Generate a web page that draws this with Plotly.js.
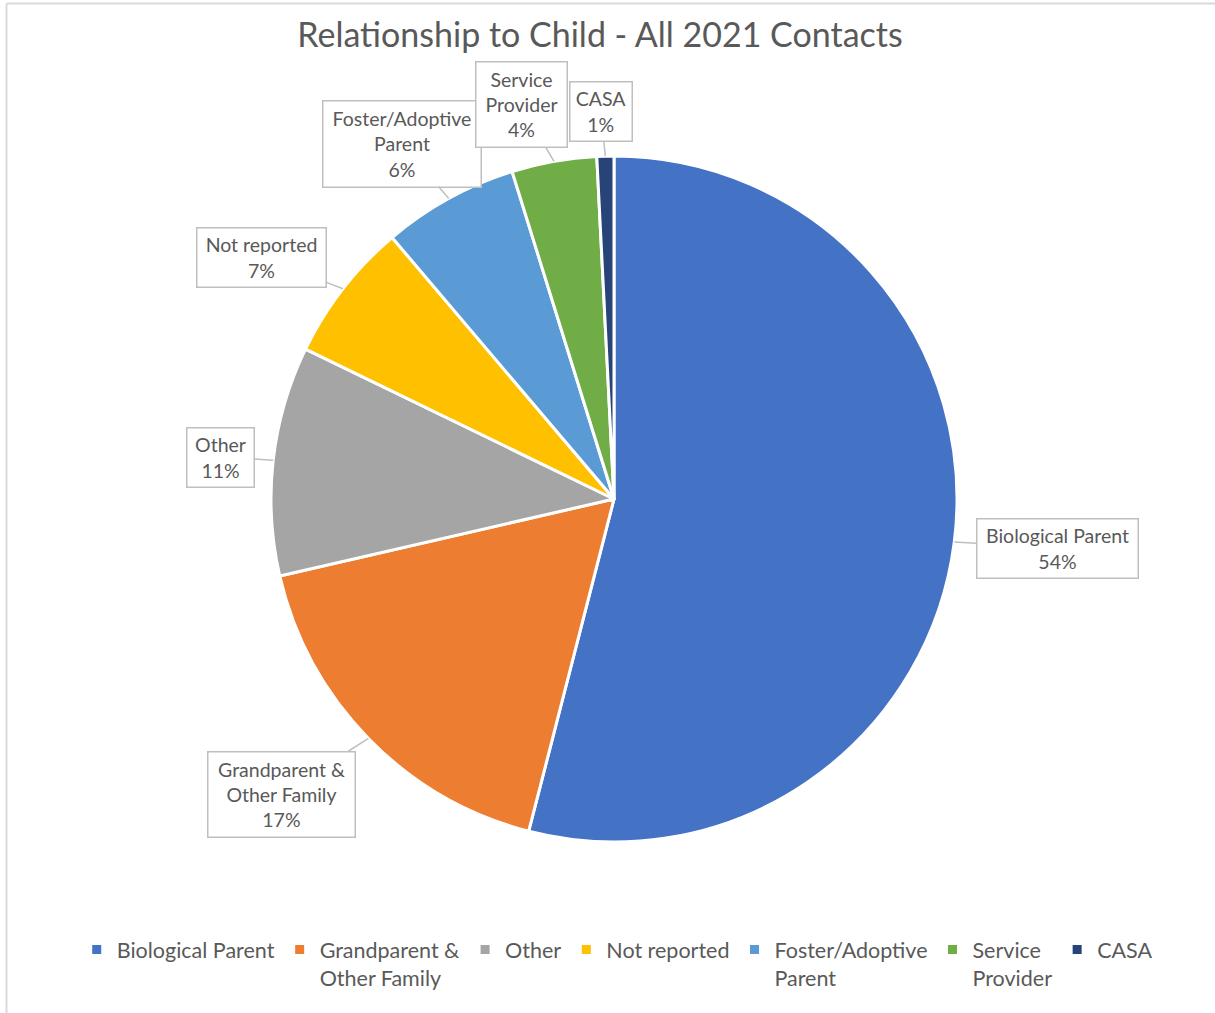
<!DOCTYPE html>
<html>
<head>
<meta charset="utf-8">
<script src="https://cdn.plot.ly/plotly-3.0.1.min.js"></script>
<style>html,body{margin:0;padding:0;background:#fff;}#chart{width:1215px;height:1013px;}</style>
</head>
<body>
<div id="chart"></div>
<script>
// ---- data ----
var chartTitle = 'Relationship to Child - All 2021 Contacts';
var categories = ['Biological Parent', 'Grandparent &<br>Other Family', 'Other', 'Not reported', 'Foster/Adoptive<br>Parent', 'Service<br>Provider', 'CASA'];
var shares = [54.0, 17.4, 10.8, 6.6, 6.4, 4.0, 0.8];
var sliceColors = ['#4472C4', '#ED7D31', '#A5A5A5', '#FFC000', '#5B9BD5', '#70AD47', '#264478'];

// ---- layout geometry (pixels) ----
var W = 1215, H = 1013;
var pieCx = 614, pieCy = 499, pieR = 343;
var dom = {
  x: [(pieCx - pieR) / W, (pieCx + pieR) / W],
  y: [1 - (pieCy + pieR) / H, 1 - (pieCy - pieR) / H]
};
// callout box centers and sizes (px), one per category
var boxes = [
  {cx: 1057, cy: 548, w: 162, h: 60},
  {cx: 281, cy: 794, w: 148, h: 86},
  {cx: 220, cy: 457, w: 68, h: 60},
  {cx: 261, cy: 257, w: 130, h: 60},
  {cx: 401.5, cy: 143.5, w: 159, h: 87},
  {cx: 521, cy: 105, w: 92, h: 86},
  {cx: 600.5, cy: 112, w: 63, h: 60}
];

var total = shares.reduce(function (a, b) { return a + b; }, 0);
var textColor = '#595959';
var fontFam = 'Lato, "Open Sans", sans-serif';

var annotations = [];
var cum = 0;
for (var i = 0; i < shares.length; i++) {
  var mid = (cum + shares[i] / 2) / total * 2 * Math.PI; // clockwise from top
  cum += shares[i];
  var tx = pieCx + pieR * Math.sin(mid);
  var ty = pieCy - pieR * Math.cos(mid);
  var b = boxes[i];
  annotations.push({
    xref: 'paper', yref: 'paper',
    x: tx / W, y: 1 - ty / H,
    ax: b.cx - tx, ay: b.cy - ty,
    axref: 'pixel', ayref: 'pixel',
    text: categories[i] + '<br>' + Math.round(shares[i] / total * 100) + '%',
    showarrow: true, arrowhead: 0, arrowwidth: 1.5, arrowcolor: '#BFBFBF',
    standoff: 0,
    width: b.w - 4, height: b.h - 4,
    borderpad: 1, borderwidth: 1.5, bordercolor: '#BFBFBF',
    bgcolor: '#FFFFFF',
    align: 'center', valign: 'middle',
    font: {family: fontFam, size: 19.5, color: textColor}
  });
}

var trace = {
  type: 'pie',
  labels: categories,
  values: shares,
  sort: false,
  direction: 'clockwise',
  rotation: 0,
  textinfo: 'none',
  hoverinfo: 'skip',
  marker: {colors: sliceColors, line: {color: '#FFFFFF', width: 3}},
  domain: dom
};

var layout = {
  width: W, height: H,
  margin: {l: 0, r: 0, t: 0, b: 0},
  paper_bgcolor: '#FFFFFF',
  title: {
    text: chartTitle,
    x: 600 / W, xanchor: 'center', xref: 'paper',
    y: 1 - 35 / H, yanchor: 'middle', yref: 'paper',
    font: {family: fontFam, size: 34, color: textColor}
  },
  showlegend: true,
  legend: {
    orientation: 'h',
    x: 0.508, xanchor: 'center',
    y: 1 - 929 / H, yanchor: 'top',
    valign: 'top',
    font: {family: fontFam, size: 21.5, color: textColor},
    traceorder: 'normal'
  },
  annotations: annotations,
  shapes: [
    {type: 'line', xref: 'paper', yref: 'paper', x0: 6.5 / W, x1: 6.5 / W, y0: 0, y1: 1 - 3.5 / H, line: {color: '#D9D9D9', width: 2}},
    {type: 'line', xref: 'paper', yref: 'paper', x0: 6.5 / W, x1: 1, y0: 1 - 3.5 / H, y1: 1 - 3.5 / H, line: {color: '#D9D9D9', width: 2}}
  ]
};

Plotly.newPlot('chart', [trace], layout, {displayModeBar: false, staticPlot: true});
</script>
</body>
</html>
